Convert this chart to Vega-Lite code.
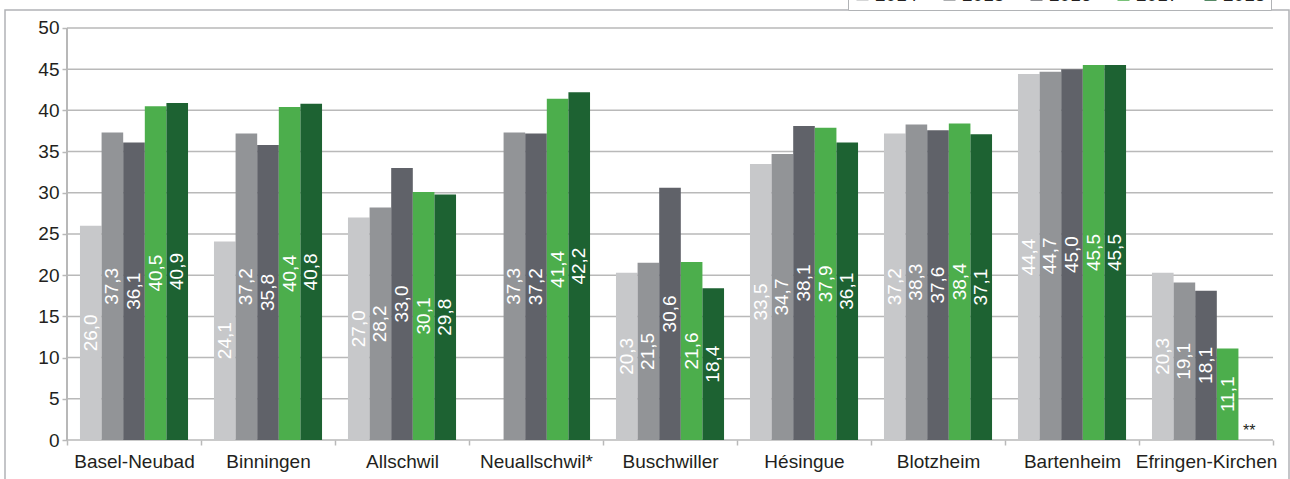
{
  "$schema": "https://vega.github.io/schema/vega-lite/v6.json",
  "width": 1284,
  "height": 475,
  "autosize": {"type": "none"},
  "padding": {"left": 5, "top": 10, "right": 1, "bottom": 0},
  "background": "white",
  "config": {
    "locale": {"number": {"decimal": ",", "thousands": ".", "grouping": [3], "currency": ["", " €"]}},
    "view": {"stroke": "#b1b3b6", "strokeWidth": 1.5},
    "font": "Liberation Sans",
    "text": {"font": "Liberation Sans"},
    "axisY": {"offset": -62, "domain": false, "grid": false, "ticks": true, "tickSize": 5, "tickColor": "#b9b9b9", "tickWidth": 1.5, "labelFontSize": 19, "labelColor": "#231f20", "labelPadding": 3, "labelFont": "Liberation Sans"},
    "axisX": {"offset": -45, "domain": false, "grid": false, "ticks": true, "tickBand": "extent", "tickSize": 5, "tickColor": "#b9b9b9", "tickWidth": 1.5, "labelFontSize": 19, "labelColor": "#231f20", "labelPadding": 7, "labelAngle": 0, "labelFont": "Liberation Sans"}
  },
  "data": {
    "values": [
      {"city": "Basel-Neubad", "year": "2014", "value": 26.0},
      {"city": "Basel-Neubad", "year": "2015", "value": 37.3},
      {"city": "Basel-Neubad", "year": "2016", "value": 36.1},
      {"city": "Basel-Neubad", "year": "2017", "value": 40.5},
      {"city": "Basel-Neubad", "year": "2018", "value": 40.9},
      {"city": "Binningen", "year": "2014", "value": 24.1},
      {"city": "Binningen", "year": "2015", "value": 37.2},
      {"city": "Binningen", "year": "2016", "value": 35.8},
      {"city": "Binningen", "year": "2017", "value": 40.4},
      {"city": "Binningen", "year": "2018", "value": 40.8},
      {"city": "Allschwil", "year": "2014", "value": 27.0},
      {"city": "Allschwil", "year": "2015", "value": 28.2},
      {"city": "Allschwil", "year": "2016", "value": 33.0},
      {"city": "Allschwil", "year": "2017", "value": 30.1},
      {"city": "Allschwil", "year": "2018", "value": 29.8},
      {"city": "Neuallschwil*", "year": "2015", "value": 37.3},
      {"city": "Neuallschwil*", "year": "2016", "value": 37.2},
      {"city": "Neuallschwil*", "year": "2017", "value": 41.4},
      {"city": "Neuallschwil*", "year": "2018", "value": 42.2},
      {"city": "Buschwiller", "year": "2014", "value": 20.3},
      {"city": "Buschwiller", "year": "2015", "value": 21.5},
      {"city": "Buschwiller", "year": "2016", "value": 30.6},
      {"city": "Buschwiller", "year": "2017", "value": 21.6},
      {"city": "Buschwiller", "year": "2018", "value": 18.4},
      {"city": "Hésingue", "year": "2014", "value": 33.5},
      {"city": "Hésingue", "year": "2015", "value": 34.7},
      {"city": "Hésingue", "year": "2016", "value": 38.1},
      {"city": "Hésingue", "year": "2017", "value": 37.9},
      {"city": "Hésingue", "year": "2018", "value": 36.1},
      {"city": "Blotzheim", "year": "2014", "value": 37.2},
      {"city": "Blotzheim", "year": "2015", "value": 38.3},
      {"city": "Blotzheim", "year": "2016", "value": 37.6},
      {"city": "Blotzheim", "year": "2017", "value": 38.4},
      {"city": "Blotzheim", "year": "2018", "value": 37.1},
      {"city": "Bartenheim", "year": "2014", "value": 44.4},
      {"city": "Bartenheim", "year": "2015", "value": 44.7},
      {"city": "Bartenheim", "year": "2016", "value": 45.0},
      {"city": "Bartenheim", "year": "2017", "value": 45.5},
      {"city": "Bartenheim", "year": "2018", "value": 45.5},
      {"city": "Efringen-Kirchen", "year": "2014", "value": 20.3},
      {"city": "Efringen-Kirchen", "year": "2015", "value": 19.1},
      {"city": "Efringen-Kirchen", "year": "2016", "value": 18.1},
      {"city": "Efringen-Kirchen", "year": "2017", "value": 11.1}
    ]
  },
  "layer": [
    {
      "data": {"values": [{"g": 0}, {"g": 5}, {"g": 10}, {"g": 15}, {"g": 20}, {"g": 25}, {"g": 30}, {"g": 35}, {"g": 40}, {"g": 45}, {"g": 50}]},
      "mark": {"type": "rule", "color": "#b9b9b9", "strokeWidth": 1.5},
      "encoding": {
        "y": {"field": "g", "type": "quantitative", "title": null, "axis": {"values": [0, 5, 10, 15, 20, 25, 30, 35, 40, 45, 50]}},
        "x": {"datum": "Basel-Neubad", "type": "nominal", "bandPosition": 0, "title": null},
        "x2": {"datum": "Efringen-Kirchen", "bandPosition": 1}
      }
    },
    {
      "mark": {"type": "rule", "color": "#b9b9b9", "strokeWidth": 1.5},
      "encoding": {
        "x": {"datum": "Basel-Neubad", "type": "nominal", "bandPosition": 0, "title": null},
        "y": {"datum": 0, "type": "quantitative", "title": null, "axis": {"values": [0, 5, 10, 15, 20, 25, 30, 35, 40, 45, 50]}},
        "y2": {"datum": 50}
      }
    },
    {
      "mark": {"type": "bar"},
      "encoding": {
        "x": {
          "field": "city", "type": "nominal", "sort": null, "title": null,
          "scale": {"domain": ["Basel-Neubad", "Binningen", "Allschwil", "Neuallschwil*", "Buschwiller", "Hésingue", "Blotzheim", "Bartenheim", "Efringen-Kirchen"], "paddingInner": 0, "paddingOuter": 0.291, "align": 0.795}
        },
        "xOffset": {"field": "year", "type": "nominal", "scale": {"domain": ["2014", "2015", "2016", "2017", "2018"], "paddingInner": 0, "paddingOuter": 0.6}},
        "y": {
          "field": "value", "type": "quantitative", "title": null,
          "scale": {"domain": [-5.46, 52.18], "nice": false, "zero": false},
          "axis": {"values": [0, 5, 10, 15, 20, 25, 30, 35, 40, 45, 50]}
        },
        "color": {
          "field": "year", "type": "nominal",
          "scale": {"domain": ["2014", "2015", "2016", "2017", "2018"], "range": ["#c7c8ca", "#929497", "#606269", "#4cae4c", "#1d6232"]},
          "legend": {"title": null, "orient": "none", "legendX": 843, "legendY": -30, "direction": "horizontal", "columns": 5, "symbolType": "square", "symbolSize": 144, "symbolStrokeWidth": 0, "labelFontSize": 19, "labelColor": "#231f20", "labelOffset": 3, "columnPadding": 22, "padding": 5, "strokeColor": "#b1b3b6", "fillColor": "white", "labelFont": "Liberation Sans"}
        }
      }
    },
    {
      "transform": [{"calculate": "datum.value / 2", "as": "mid"}],
      "mark": {"type": "text", "angle": 270, "align": "center", "baseline": "middle", "fill": "white", "fontSize": 19, "font": "Liberation Sans"},
      "encoding": {
        "x": {"field": "city", "type": "nominal", "sort": null, "title": null},
        "xOffset": {"field": "year", "type": "nominal"},
        "y": {"field": "mid", "type": "quantitative", "title": null, "axis": {"values": [0, 5, 10, 15, 20, 25, 30, 35, 40, 45, 50]}},
        "text": {"field": "value", "type": "quantitative", "format": ".1f"}
      }
    },
    {
      "data": {"values": [{"city": "Efringen-Kirchen", "year": "2018", "note": "**", "base": 0}]},
      "mark": {"type": "text", "align": "center", "baseline": "bottom", "dy": -1, "fill": "#231f20", "fontSize": 16, "font": "Liberation Sans"},
      "encoding": {
        "x": {"field": "city", "type": "nominal", "sort": null, "title": null},
        "xOffset": {"field": "year", "type": "nominal"},
        "y": {"field": "base", "type": "quantitative", "title": null, "axis": {"values": [0, 5, 10, 15, 20, 25, 30, 35, 40, 45, 50]}},
        "text": {"field": "note"}
      }
    }
  ]
}
